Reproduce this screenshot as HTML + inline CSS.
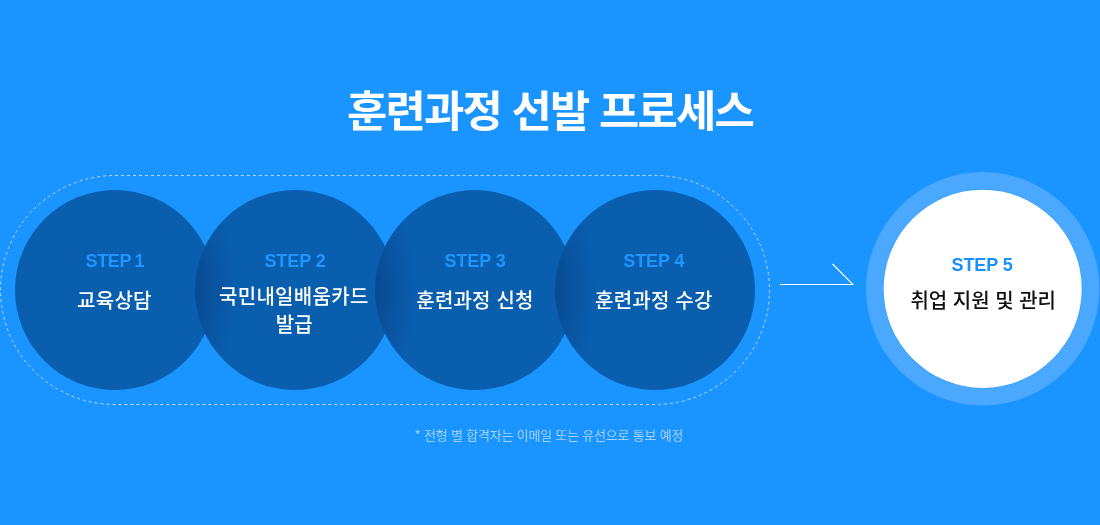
<!DOCTYPE html>
<html lang="ko">
<head>
<meta charset="utf-8">
<title>훈련과정 선발 프로세스</title>
<style>
html,body{margin:0;padding:0;}
body{width:1100px;height:525px;overflow:hidden;background:#1a94ff;position:relative;
  font-family:"Liberation Sans","Noto Sans CJK KR",sans-serif;}
.title,.note,.c{will-change:transform}
.title{position:absolute;left:0;top:76px;width:1100px;text-align:center;color:#fff;
  font-family:"Noto Sans CJK KR","Liberation Sans",sans-serif;font-weight:700;font-size:43px;line-height:64px;letter-spacing:-1.8px;white-space:nowrap;transform:scaleX(1.02);transform-origin:50% 50%;}
.pill{position:absolute;left:0;top:175px;width:770px;height:230px;box-sizing:border-box;}
.pill svg{display:block;}
.c{position:absolute;top:190px;width:200px;height:200px;border-radius:50%;background:#095eae;overflow:hidden;}
.c.sh::before{content:"";position:absolute;left:0;top:0;width:100%;height:100%;
  background:radial-gradient(ellipse 40px 100px at 0% 50%, rgba(8,60,128,.62) 0%, rgba(8,60,128,0) 100%);}
.c1{left:15px}.c2{left:195px}.c3{left:375px}.c4{left:555px}
.step{position:absolute;left:0;width:100%;text-align:center;top:61px;font-weight:700;font-size:18px;line-height:20px;color:#1f96ff;letter-spacing:-0.1px;}
.c1 .step{letter-spacing:-.35px;word-spacing:-.9px;margin-left:-.1px}
.c1 .lbl{letter-spacing:.3px;margin-left:-.6px}
.c4 .step,.c4 .lbl{margin-left:-1.2px}
.lbl{position:absolute;left:0;width:100%;text-align:center;top:96px;color:#fff;
  font-family:"Noto Sans CJK KR","Liberation Sans",sans-serif;font-weight:500;font-size:20px;line-height:28px;white-space:nowrap;letter-spacing:.2px;}
.lbl.l2{top:92px;line-height:28px}
.l2 span{display:block;position:relative}
.l2 .a{letter-spacing:.3px;left:-1.2px}
.l2 .b{left:-.75px}
.c5{position:absolute;left:866px;top:172px;width:234px;height:234px;}
.c5 svg{position:absolute;left:0;top:0;display:block}
.c5i{will-change:transform;position:absolute;left:17.5px;top:18px;width:198px;height:198px;}
.c5 .step{top:65px;color:#1a90ff;margin-left:-.9px}
.c5 .lbl{top:95.5px;color:#111;margin-left:.2px;letter-spacing:0}
.arrow{position:absolute;left:770px;top:255px;}
.note{position:absolute;left:0;top:426px;margin-left:-1px;width:1100px;text-align:center;color:#a3d4ff;font-size:13px;letter-spacing:-0.2px;line-height:18px;
  font-family:"Noto Sans CJK KR","Liberation Sans",sans-serif;font-weight:400;}
</style>
</head>
<body>
<div class="title">훈련과정 선발 프로세스</div>
<div class="pill"><svg width="770" height="230" viewBox="0 0 770 230"><rect x="0.5" y="0.5" width="769" height="229" rx="114.5" ry="114.5" fill="none" stroke="#b4dbff" stroke-width="1" stroke-dasharray="3 3" pathLength="1800"/></svg></div>
<div class="c c1"><div class="step">STEP 1</div><div class="lbl">교육상담</div></div>
<div class="c c2 sh"><div class="step">STEP 2</div><div class="lbl l2"><span class="a">국민내일배움카드</span><span class="b">발급</span></div></div>
<div class="c c3 sh"><div class="step">STEP 3</div><div class="lbl">훈련과정 신청</div></div>
<div class="c c4 sh"><div class="step">STEP 4</div><div class="lbl">훈련과정 수강</div></div>
<svg class="arrow" width="100" height="40" viewBox="0 0 100 40"><path d="M10 29.5 H83" fill="none" stroke="#fff" stroke-width="1"/><path d="M83.3 29.8 L62.5 9" fill="none" stroke="#fff" stroke-width="1.15"/></svg>
<div class="c5"><svg width="234" height="234" viewBox="0 0 234 234"><circle cx="116.7" cy="116.8" r="116.7" fill="#4aa8ff"/><circle cx="116.7" cy="116.8" r="99.7" fill="#2f9cff"/><circle cx="116.7" cy="116.8" r="99.1" fill="#fff"/></svg><div class="c5i"><div class="step">STEP 5</div><div class="lbl">취업 지원 및 관리</div></div></div>
<div class="note">* 전형 별 합격자는 이메일 또는 유선으로 통보 예정</div>
</body>
</html>
